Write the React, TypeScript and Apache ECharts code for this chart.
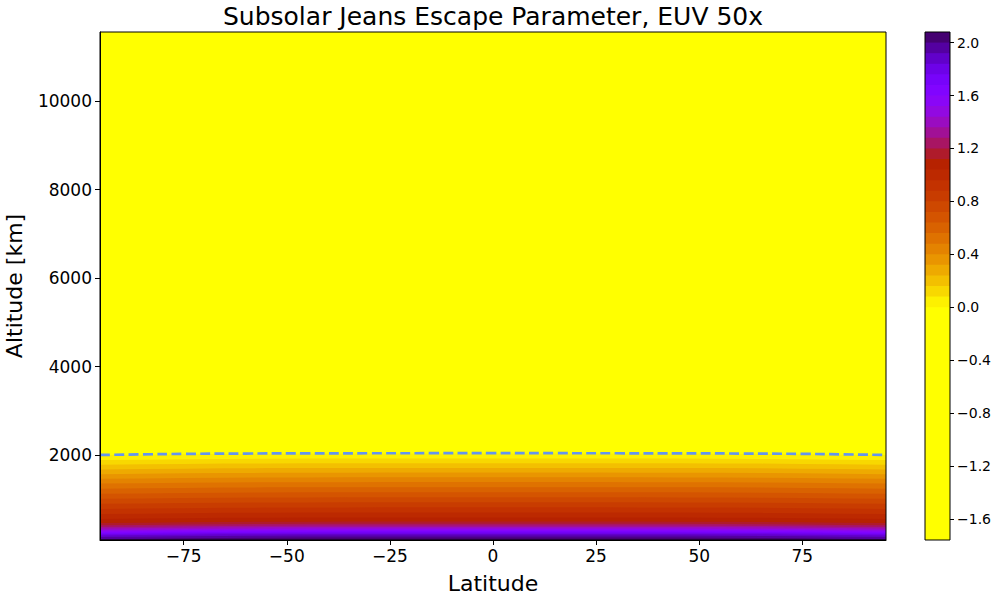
import React, { useEffect, useRef } from "react";
import * as echarts from "echarts";

const TITLE = "Subsolar Jeans Escape Parameter, EUV 50x";
const X_NAME = "Latitude";
const Y_NAME = "Altitude [km]";

const LAT_MIN = -95.3;
const LAT_MAX = 95.3;
const ALT_MIN = 80;
const ALT_MAX = 11560;

const xTicks = [-75, -50, -25, 0, 25, 50, 75];
const yTicks = [2000, 4000, 6000, 8000, 10000];
const cbTicks = [-1.6, -1.2, -0.8, -0.4, 0, 0.4, 0.8, 1.2, 1.6, 2.0];

// escape parameter (log) profile near the equator, vs altitude [km]
const profileAlt = [80, 120, 150, 200, 250, 300, 350, 400, 450, 500, 600, 800, 1000, 1200, 1400, 1600, 1800, 2000, 2200, 2500, 3000, 4000, 5000, 6000, 7000, 8000, 9000, 10000, 11000, 11560];
const profileVal = [2.075, 2.02, 1.98, 1.88, 1.74, 1.58, 1.42, 1.29, 1.19, 1.11, 1.03, 0.89, 0.75, 0.61, 0.47, 0.32, 0.17, 0.02, -0.1, -0.26, -0.46, -0.76, -0.99, -1.17, -1.32, -1.45, -1.56, -1.65, -1.72, -1.755];

// contour altitude offset with latitude [km]
const shiftLat = [-95.3, -85, -75, -65, -55, -45, -35, -25, -15, -5, 5, 15, 25, 35, 45, 55, 65, 75, 85, 95.3];
const shiftKm = [-35, -24, -14, -7, -2, 0, 2, 3, 3, 3, 3, 3, 3, 2, 0, -2, -7, -14, -24, -35];

// dashed line (exobase)
const lineLat = [-95.3, -85, -75, -60, -45, -30, -15, 0, 15, 30, 45, 60, 75, 85, 95.3];
const lineAlt = [2002, 2015, 2026, 2034, 2038, 2040, 2041, 2041, 2041, 2040, 2038, 2034, 2026, 2015, 2002];

// contour levels: k * 0.08
const LEVEL_STEP = 0.08;
const LEVEL_K_MIN = -22;
const LEVEL_K_MAX = 26;
const CMAP_VMAX = 2.2;

const levels: number[] = [];
for (let k = LEVEL_K_MIN; k <= LEVEL_K_MAX; k++) levels.push(Math.round(k * LEVEL_STEP * 100) / 100);
const LV_MIN = levels[0];
const LV_MAX = levels[levels.length - 1];

function gnuplotR(t: number): string {
  const tt = Math.min(1, Math.max(0, t));
  const x = 1 - tt;
  const r = Math.sqrt(x);
  const g = x * x * x;
  const b = Math.max(0, Math.min(1, Math.sin(2 * Math.PI * x)));
  return `rgb(${Math.round(r * 255)},${Math.round(g * 255)},${Math.round(b * 255)})`;
}

const bandColors = levels.slice(0, -1).map((L, j) => gnuplotR((L + levels[j + 1]) / 2 / CMAP_VMAX));

function altAtLevel(L: number): number {
  if (L >= profileVal[0]) return ALT_MIN - 1000;
  const n = profileVal.length;
  if (L <= profileVal[n - 1]) return ALT_MAX + 1000;
  for (let i = 0; i < n - 1; i++) {
    const a = profileVal[i];
    const b = profileVal[i + 1];
    if (L <= a && L >= b) {
      const f = (a - L) / (a - b);
      return profileAlt[i] + f * (profileAlt[i + 1] - profileAlt[i]);
    }
  }
  return ALT_MAX + 1000;
}

const bandTopAlt = levels.slice(0, -1).map((L) => altAtLevel(L));

const FONT = "DejaVu Sans";

export default function App() {
  const ref = useRef<HTMLDivElement>(null);
  useEffect(() => {
    if (!ref.current) return;
    const chart = echarts.init(ref.current, null, { renderer: "svg" });
    const clampAlt = (a: number) => Math.min(ALT_MAX + 500, Math.max(ALT_MIN - 500, a));
    const fmtMinus = (v: number, d: number) => {
      const s = Math.abs(v).toFixed(d);
      return v < -1e-9 ? "\u2212" + s : s;
    };
    const option: any = {
      animation: false,
      backgroundColor: "#ffffff",
      textStyle: { fontFamily: FONT },
      graphic: [
        {
          type: "text",
          x: 493,
          y: 16,
          style: {
            text: TITLE,
            fontFamily: FONT,
            fontSize: 25,
            fill: "#000",
            textAlign: "center",
            textVerticalAlign: "middle",
          },
        },
      ],
      grid: [
        { left: 100, top: 32, width: 786, height: 508, containLabel: false, outerBoundsMode: "none", show: true, borderColor: "#000", borderWidth: 1, backgroundColor: "transparent", z: 10 },
        { left: 925, top: 32, width: 25, height: 508, containLabel: false, outerBoundsMode: "none", show: true, borderColor: "#000", borderWidth: 1, backgroundColor: "transparent", z: 10 },
      ],
      xAxis: [
        {
          type: "value",
          gridIndex: 0,
          min: LAT_MIN,
          max: LAT_MAX,
          z: 10,
          name: X_NAME,
          nameLocation: "middle",
          nameGap: 32,
          nameTextStyle: { fontFamily: FONT, fontSize: 22, color: "#000" },
          axisLine: { show: true, onZero: false, lineStyle: { color: "#000", width: 1 } },
          axisTick: { show: true, length: 5, lineStyle: { color: "#000", width: 1 }, customValues: xTicks },
          axisLabel: {
            show: true,
            margin: 7,
            fontFamily: FONT,
            fontSize: 17,
            color: "#000",
            customValues: xTicks,
            formatter: (v: number) => fmtMinus(v, 0),
          },
          splitLine: { show: false },
        },
        { type: "value", gridIndex: 1, min: 0, max: 1, show: false },
      ],
      yAxis: [
        {
          type: "value",
          gridIndex: 0,
          min: ALT_MIN,
          max: ALT_MAX,
          z: 10,
          name: Y_NAME,
          nameLocation: "middle",
          nameGap: 75,
          nameRotate: 90,
          nameTextStyle: { fontFamily: FONT, fontSize: 22, color: "#000" },
          axisLine: { show: true, onZero: false, lineStyle: { color: "#000", width: 1 } },
          axisTick: { show: true, length: 5, lineStyle: { color: "#000", width: 1 }, customValues: yTicks },
          axisLabel: {
            show: true,
            margin: 8,
            fontFamily: FONT,
            fontSize: 17,
            color: "#000",
            customValues: yTicks,
            formatter: (v: number) => String(v),
          },
          splitLine: { show: false },
        },
        {
          type: "value",
          gridIndex: 1,
          min: LV_MIN,
          max: LV_MAX,
          position: "right",
          z: 10,
          axisLine: { show: false, onZero: false },
          axisTick: { show: true, length: 4, lineStyle: { color: "#000", width: 1 }, customValues: cbTicks },
          axisLabel: {
            show: true,
            margin: 7,
            fontFamily: FONT,
            fontSize: 14,
            color: "#000",
            customValues: cbTicks,
            formatter: (v: number) => fmtMinus(v, 1),
          },
          splitLine: { show: false },
        },
      ],
      series: [
        {
          type: "custom",
          name: "bands",
          xAxisIndex: 0,
          yAxisIndex: 0,
          clip: true,
          silent: true,
          z: 1,
          data: bandTopAlt.map(() => [0, 1000]),
          renderItem: (params: any, api: any) => {
            const j = params.dataIndex;
            const top = bandTopAlt[j];
            if (top < ALT_MIN - 400) return null;
            const pts: number[][] = shiftLat.map((lat, k) => api.coord([lat, clampAlt(top + shiftKm[k])]));
            pts[0] = api.coord([LAT_MIN - 5, clampAlt(top + shiftKm[0])]);
            pts[shiftLat.length - 1] = api.coord([LAT_MAX + 5, clampAlt(top + shiftKm[shiftKm.length - 1])]);
            pts.push(api.coord([LAT_MAX + 5, ALT_MIN - 600]));
            pts.push(api.coord([LAT_MIN - 5, ALT_MIN - 600]));
            return {
              type: "polygon",
              shape: { points: pts },
              style: { fill: bandColors[j], stroke: null },
            };
          },
        },
        {
          type: "line",
          name: "exobase",
          xAxisIndex: 0,
          yAxisIndex: 0,
          z: 5,
          smooth: true,
          symbol: "none",
          silent: true,
          data: lineLat.map((lat, i) => [lat, lineAlt[i]]),
          lineStyle: { color: "#6495ED", width: 2.7, type: [10, 4.3] },
        },
        {
          type: "custom",
          name: "colorbar",
          xAxisIndex: 1,
          yAxisIndex: 1,
          clip: true,
          silent: true,
          z: 1,
          data: bandColors.map(() => [0.5, 0]),
          renderItem: (params: any, api: any) => {
            const j = params.dataIndex;
            const p0 = api.coord([0, levels[j]]);
            const p1 = api.coord([1, LV_MAX]);
            return {
              type: "rect",
              shape: { x: p0[0], y: p1[1], width: p1[0] - p0[0], height: p0[1] - p1[1] },
              style: { fill: bandColors[j], stroke: null },
            };
          },
        },
      ],
    };
    chart.setOption(option);
    return () => chart.dispose();
  }, []);
  return <div ref={ref} style={{ position: "fixed", left: 0, top: 0, width: 1000, height: 600 }} />;
}
